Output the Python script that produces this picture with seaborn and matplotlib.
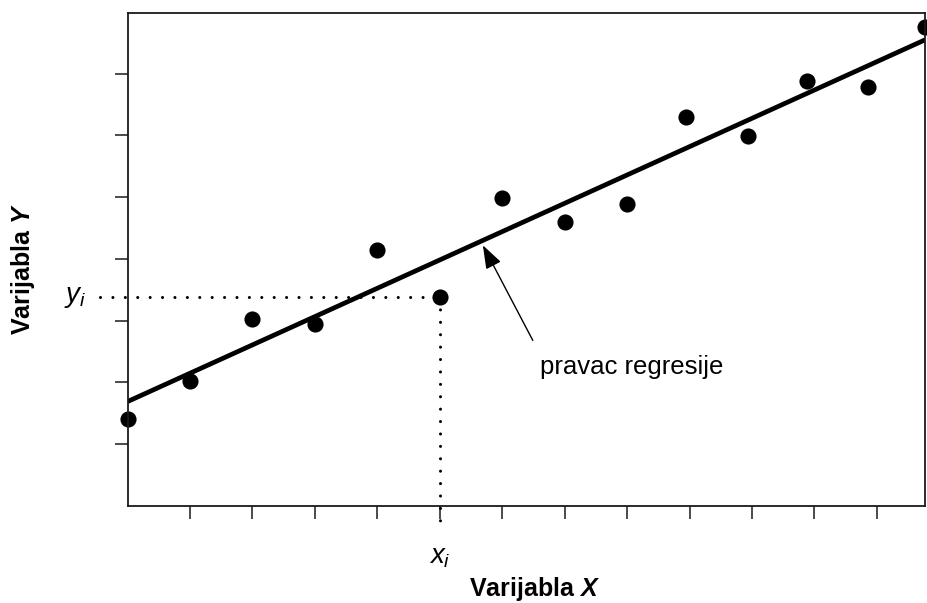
import numpy as np
import pandas as pd
import matplotlib
matplotlib.use('Agg')
import matplotlib.pyplot as plt
import seaborn as sns

sns.set_theme(style='ticks', rc={'text.color': 'black', 'axes.labelcolor': 'black'})
plt.rcParams['font.family'] = ['Liberation Sans', 'DejaVu Sans']
plt.rcParams['mathtext.fontset'] = 'custom'
plt.rcParams['mathtext.rm'] = 'Liberation Sans'
plt.rcParams['mathtext.it'] = 'Liberation Sans:italic'
plt.rcParams['mathtext.bf'] = 'Liberation Sans:bold'
plt.rcParams['mathtext.bfit'] = 'Liberation Sans:italic:bold'

# values (tick units)
x_vals = [0, 1, 2, 3, 4, 5, 6, 7, 8, 8.94, 9.94, 10.88, 11.86, 12.77]
y_vals = [1.41, 2.02, 3.03, 2.94, 4.15, 3.39, 4.98, 4.59, 4.89, 6.29, 5.99, 6.88, 6.79, 7.76]
x_ticks = list(range(1, 13))
y_ticks = list(range(1, 8))
highlight = 5  # the point marked with x_i / y_i

df = pd.DataFrame({'x': x_vals, 'y': y_vals})

fig = plt.figure(figsize=(9.28, 6.03), dpi=100)
ax = fig.add_axes([0.1374, 0.1609, 0.8594, 0.8175])

sns.regplot(data=df, x='x', y='y', ci=None, ax=ax, color='black',
            scatter_kws={'s': 135, 'clip_on': False, 'alpha': 1, 'linewidths': 0},
            line_kws={'lw': 3.4, 'solid_capstyle': 'butt'})

ax.set_xlim(0, 12.77)
ax.set_ylim(0, 7.98)

for sp in ax.spines.values():
    sp.set_visible(True)
    sp.set_linewidth(1.3)
    sp.set_color('#1a1a1a')

ax.set_xticks(x_ticks)
ax.set_yticks(y_ticks)
ax.set_xticklabels([])
ax.set_yticklabels([])
ax.tick_params(direction='out', length=9.5, width=1.1, color='#1a1a1a')

xi, yi = x_vals[highlight], y_vals[highlight]
dot = dict(color='black', lw=2.2, dashes=(0.01, 4.05), dash_capstyle='round', clip_on=False)
ax.plot([-0.44, xi], [yi, yi], **dot)
ax.plot([xi, xi], [yi, -0.36], **dot)

ax.text(-0.84, yi, '$y_i$', fontsize=20, ha='center', va='center', clip_on=False)
ax.text(xi, -0.82, '$x_i$', fontsize=20, ha='center', va='center', clip_on=False)

ax.annotate('', xy=(5.69, 4.22), xytext=(6.49, 2.68),
            arrowprops=dict(arrowstyle='-|>,head_length=0.9,head_width=0.32',
                            mutation_scale=16, lw=1.0, color='black',
                            shrinkA=0, shrinkB=0))
ax.text(6.61, 2.14, 'pravac regresije', fontsize=18.5, ha='left', va='baseline')

ax.set_xlabel(r'Varijabla $\mathbfit{X}$', fontsize=18, fontweight='bold')
ax.set_ylabel(r'Varijabla $\mathbfit{Y}$', fontsize=18, fontweight='bold')
ax.xaxis.set_label_coords(0.51, -0.14)
ax.yaxis.set_label_coords(-0.1135, 0.48)
ax.xaxis.label.set_va('top')

fig.savefig('out.png', dpi=100)
